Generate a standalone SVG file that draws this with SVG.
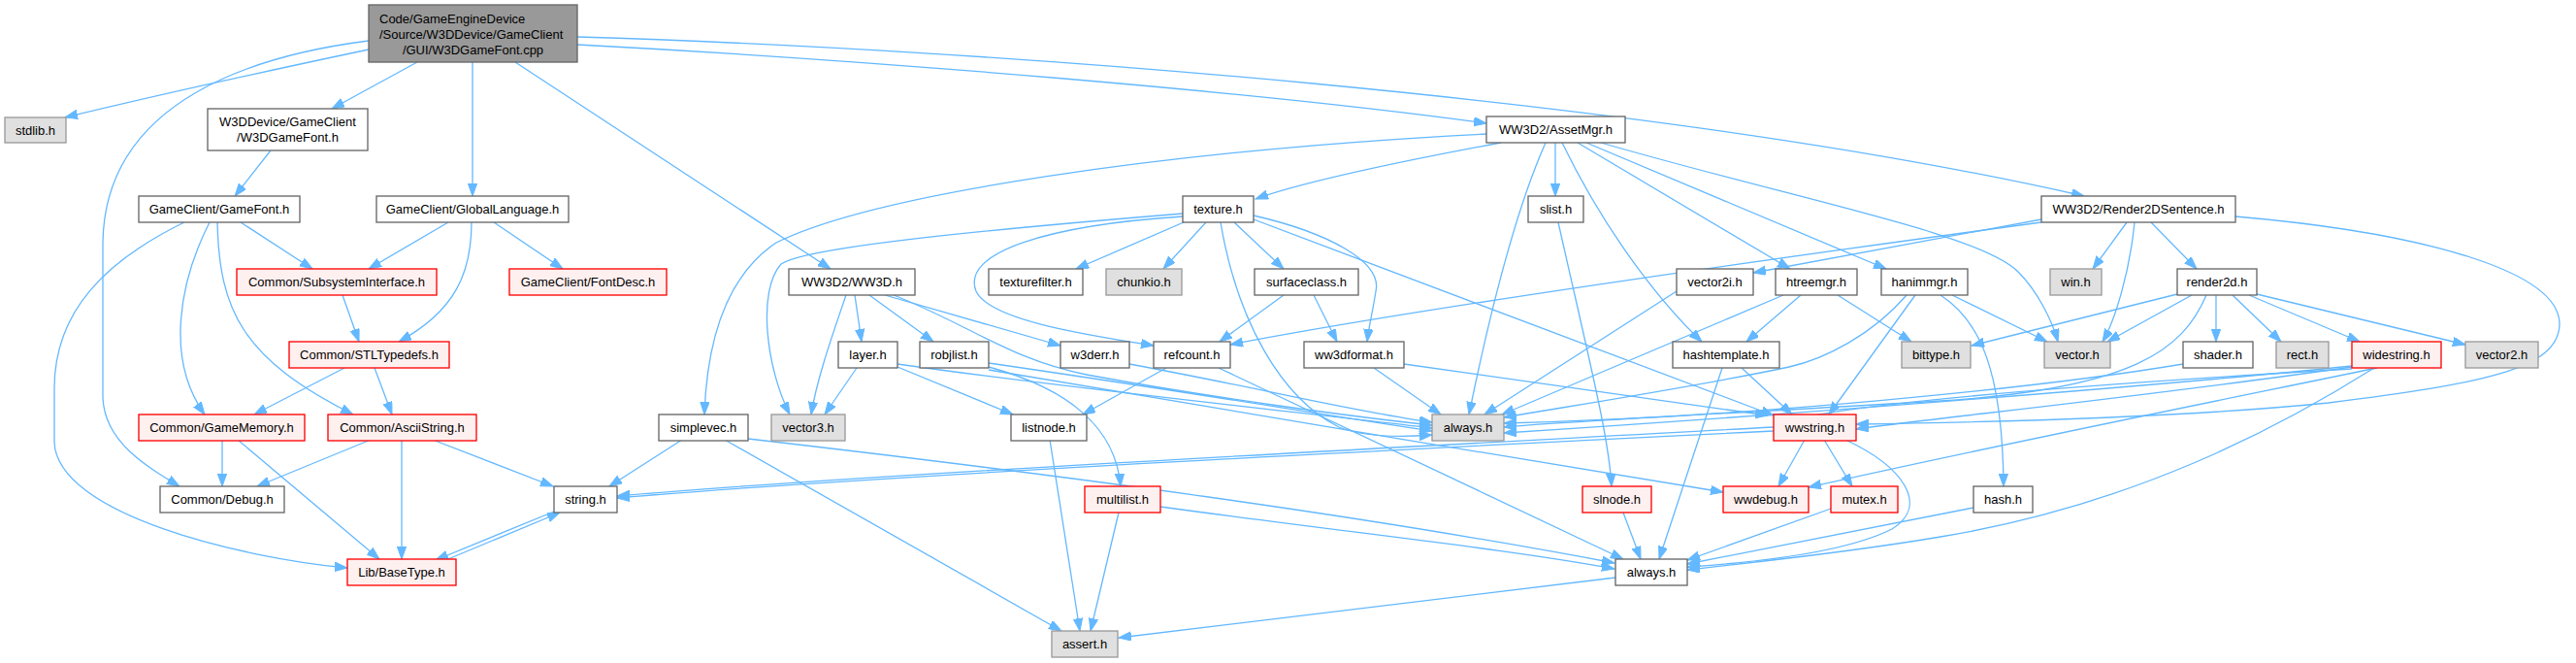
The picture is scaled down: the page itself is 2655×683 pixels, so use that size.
<svg xmlns="http://www.w3.org/2000/svg" width="2655" height="683" viewBox="0 0 2655 683">
<style>
.e{fill:none;stroke:#63b8ff;stroke-width:1.3;marker-end:url(#ah)}
.n rect{fill:#ffffff;stroke:#666666;stroke-width:1.33}
.g rect{fill:#e0e0e0;stroke:#999999;stroke-width:1.33}
.r rect{fill:#fff0f0;stroke:#ff0000;stroke-width:1.33}
.root rect{fill:#999999;stroke:#666666;stroke-width:1.33}
text{font-family:"Liberation Sans",Arial,sans-serif;font-size:13px;fill:#000;text-anchor:middle}
</style>
<defs>
<marker id="ah" markerUnits="userSpaceOnUse" markerWidth="14" markerHeight="10" refX="13" refY="4.7" orient="auto">
<path d="M0,0 L13,4.7 L0,9.4 z" fill="#63b8ff" stroke="#63b8ff" stroke-width="1"/>
</marker>
</defs>
<rect x="0" y="0" width="2655" height="683" fill="#ffffff"/>
<g id="edges">
<path class="e" d="M380,51 C290,70 170,96 67,121"/>
<path class="e" d="M430,64 L342,112"/>
<path class="e" d="M380,42 C270,56 108,100 106,250 L106,410 C108,455 150,480 185,501"/>
<path class="e" d="M487,64 L487,202"/>
<path class="e" d="M531,64 L856,277"/>
<path class="e" d="M595,46 C900,62 1300,95 1532,127"/>
<path class="e" d="M595,38 C1000,50 1700,100 2148,202"/>
<path class="e" d="M279,155 L242,202"/>
<path class="e" d="M248,229 L322,277"/>
<path class="e" d="M216,229 C185,290 170,370 211,427"/>
<path class="e" d="M224,229 C226,320 250,370 364,427"/>
<path class="e" d="M190,229 C110,268 56,320 56,400 L56,455 C58,530 250,575 358,585"/>
<path class="e" d="M462,229 L380,277"/>
<path class="e" d="M509,229 L580,277"/>
<path class="e" d="M486,229 C486,280 470,320 411,352"/>
<path class="e" d="M353,304 L370,352"/>
<path class="e" d="M355,379 L262,427"/>
<path class="e" d="M386,379 L404,427"/>
<path class="e" d="M229,453 L229,501"/>
<path class="e" d="M245,453 L391,576"/>
<path class="e" d="M382,453 L265,501"/>
<path class="e" d="M414,453 L414,576"/>
<path class="e" d="M446,453 L570,501"/>
<path class="e" d="M571,527 L449,577"/>
<path class="e" d="M457,578 L577,528"/>
<path class="e" d="M703,453 L628,501"/>
<path class="e" d="M747,453 L1094,650"/>
<path class="e" d="M771,452 C1100,490 1400,530 1664,580"/>
<path class="e" d="M1196,522 C1400,550 1550,565 1664,586"/>
<path class="e" d="M1082,453 L1113,650"/>
<path class="e" d="M1153,528 L1124,650"/>
<path class="e" d="M1665,595 L1153,657"/>
<path class="e" d="M872,304 C858,345 842,390 836,427"/>
<path class="e" d="M881,304 L888,352"/>
<path class="e" d="M896,304 L962,352"/>
<path class="e" d="M912,304 L1093,356"/>
<path class="e" d="M921,304 C1000,335 1040,370 1120,386 C1250,410 1400,430 1476,438"/>
<path class="e" d="M883,379 L850,427"/>
<path class="e" d="M925,378 L1044,427"/>
<path class="e" d="M925,375 C1100,400 1300,420 1476,441"/>
<path class="e" d="M1019,378 C1100,400 1150,440 1155,501"/>
<path class="e" d="M1019,374 C1200,400 1350,425 1476,444"/>
<path class="e" d="M1019,381 C1200,412 1550,470 1776,507"/>
<path class="e" d="M1164,375 C1300,400 1400,425 1476,435"/>
<path class="e" d="M1220,229 L1109,277"/>
<path class="e" d="M1243,229 L1199,277"/>
<path class="e" d="M1272,229 L1323,277"/>
<path class="e" d="M1219,223 C1080,232 990,260 1006,300 C1020,330 1120,345 1189,356"/>
<path class="e" d="M1219,220 C1000,238 830,255 805,272 C780,300 790,380 814,427"/>
<path class="e" d="M1258,229 C1275,330 1320,410 1380,440 C1410,452 1450,450 1476,448"/>
<path class="e" d="M1292,222 C1370,240 1425,270 1418,300 C1415,320 1411,335 1409,352"/>
<path class="e" d="M1292,226 L1828,428"/>
<path class="e" d="M1323,304 L1257,352"/>
<path class="e" d="M1354,304 L1378,352"/>
<path class="e" d="M1202,379 L1116,427"/>
<path class="e" d="M1256,379 L1673,576"/>
<path class="e" d="M1416,379 L1485,427"/>
<path class="e" d="M1447,375 L1822,428"/>
<path class="e" d="M1532,138 C1200,155 900,200 800,250 C740,290 728,370 726,427"/>
<path class="e" d="M1547,147 C1450,165 1350,185 1294,205"/>
<path class="e" d="M1603,147 L1603,202"/>
<path class="e" d="M1593,147 C1565,210 1540,300 1514,427"/>
<path class="e" d="M1610,147 C1660,250 1720,320 1754,352"/>
<path class="e" d="M1626,147 L1845,277"/>
<path class="e" d="M1635,147 L1944,277"/>
<path class="e" d="M1650,147 C1850,205 2040,240 2080,280 C2100,300 2115,330 2121,352"/>
<path class="e" d="M2192,229 L2157,277"/>
<path class="e" d="M2200,229 C2195,280 2180,330 2167,352"/>
<path class="e" d="M2217,229 L2264,277"/>
<path class="e" d="M2304,223 C2500,240 2640,280 2638,335 C2636,380 2560,395 2400,415 C2250,430 2050,435 1913,437"/>
<path class="e" d="M2104,226 L1807,281"/>
<path class="e" d="M2104,229 C1800,270 1450,320 1268,355"/>
<path class="e" d="M1965,304 C1930,345 1880,370 1844,378 C1750,398 1620,418 1550,430"/>
<path class="e" d="M1974,304 L1885,427"/>
<path class="e" d="M2012,304 L2110,352"/>
<path class="e" d="M2000,304 C2040,330 2064,380 2065,501"/>
<path class="e" d="M1838,304 L1548,427"/>
<path class="e" d="M1856,304 L1800,352"/>
<path class="e" d="M1894,304 L1970,352"/>
<path class="e" d="M1728,300 L1530,427"/>
<path class="e" d="M1775,379 L1710,576"/>
<path class="e" d="M1795,379 L1847,427"/>
<path class="e" d="M1606,229 C1640,380 1658,450 1661,501"/>
<path class="e" d="M1673,528 L1691,576"/>
<path class="e" d="M1860,453 L1833,501"/>
<path class="e" d="M1880,453 L1909,501"/>
<path class="e" d="M1902,453 C1960,480 1990,520 1950,545 C1900,570 1800,580 1739,584"/>
<path class="e" d="M1828,444 C1500,460 900,490 636,513"/>
<path class="e" d="M1887,524 L1739,577"/>
<path class="e" d="M2034,523 L1739,581"/>
<path class="e" d="M2244,303 L2032,356"/>
<path class="e" d="M2259,304 L2172,352"/>
<path class="e" d="M2284,304 L2284,352"/>
<path class="e" d="M2301,304 L2351,352"/>
<path class="e" d="M2318,304 L2432,352"/>
<path class="e" d="M2326,303 L2541,355"/>
<path class="e" d="M2274,304 C2250,360 2200,400 2000,413 C1800,425 1600,435 1550,440"/>
<path class="e" d="M2250,375 C2100,400 1800,430 1550,436"/>
<path class="e" d="M2424,377 C2200,400 1800,430 1550,446"/>
<path class="e" d="M2424,378 C2200,410 2000,430 1913,442"/>
<path class="e" d="M2450,379 C2300,410 2050,460 1864,502"/>
<path class="e" d="M2447,379 C2350,440 2200,520 2000,553 C1900,570 1800,580 1739,587"/>
<path class="e" d="M2424,380 C2000,405 1850,425 1828,440 C1500,458 900,488 636,511"/>
</g>
<g id="root" class="root"><rect x="380" y="5" width="215" height="59"/>
<text x="391" y="24" style="text-anchor:start">Code/GameEngineDevice</text>
<text x="391" y="40" style="text-anchor:start">/Source/W3DDevice/GameClient</text>
<text x="487.5" y="56">/GUI/W3DGameFont.cpp</text></g>
<g id="stdlib_h" class="g"><rect x="5" y="121" width="63" height="26"/><text x="36.5" y="138.5">stdlib.h</text></g>
<g id="W3DGameFont_h" class="n"><rect x="214" y="112" width="165" height="43"/><text x="296.5" y="130">W3DDevice/GameClient</text><text x="296.5" y="146">/W3DGameFont.h</text></g>
<g id="GameFont_h" class="n"><rect x="143" y="202" width="166" height="27"/><text x="226" y="220">GameClient/GameFont.h</text></g>
<g id="GlobalLanguage_h" class="n"><rect x="388" y="202" width="198" height="27"/><text x="487" y="220">GameClient/GlobalLanguage.h</text></g>
<g id="SubsystemInterface_h" class="r"><rect x="244" y="277" width="206" height="27"/><text x="347" y="295">Common/SubsystemInterface.h</text></g>
<g id="FontDesc_h" class="r"><rect x="525" y="277" width="162" height="27"/><text x="606" y="295">GameClient/FontDesc.h</text></g>
<g id="STLTypedefs_h" class="r"><rect x="298" y="352" width="165" height="27"/><text x="380.5" y="370">Common/STLTypedefs.h</text></g>
<g id="GameMemory_h" class="r"><rect x="143" y="427" width="171" height="27"/><text x="228.5" y="445">Common/GameMemory.h</text></g>
<g id="AsciiString_h" class="r"><rect x="338" y="427" width="153" height="27"/><text x="414.5" y="445">Common/AsciiString.h</text></g>
<g id="Debug_h" class="n"><rect x="165" y="501" width="128" height="27"/><text x="229" y="519">Common/Debug.h</text></g>
<g id="string_h" class="n"><rect x="571" y="501" width="65" height="27"/><text x="603.5" y="519">string.h</text></g>
<g id="BaseType_h" class="r"><rect x="358" y="576" width="112" height="27"/><text x="414" y="594">Lib/BaseType.h</text></g>
<g id="simplevec_h" class="n"><rect x="679" y="427" width="92" height="27"/><text x="725" y="445">simplevec.h</text></g>
<g id="vector3_h" class="g"><rect x="795" y="427" width="76" height="27"/><text x="833" y="445">vector3.h</text></g>
<g id="WW3D_h" class="n"><rect x="813" y="277" width="130" height="27"/><text x="878" y="295">WW3D2/WW3D.h</text></g>
<g id="texture_h" class="n"><rect x="1219" y="202" width="73" height="27"/><text x="1255.5" y="220">texture.h</text></g>
<g id="texturefilter_h" class="n"><rect x="1019" y="277" width="97" height="27"/><text x="1067.5" y="295">texturefilter.h</text></g>
<g id="chunkio_h" class="g"><rect x="1140" y="277" width="78" height="27"/><text x="1179" y="295">chunkio.h</text></g>
<g id="surfaceclass_h" class="n"><rect x="1293" y="277" width="107" height="27"/><text x="1346.5" y="295">surfaceclass.h</text></g>
<g id="layer_h" class="n"><rect x="864" y="352" width="61" height="27"/><text x="894.5" y="370">layer.h</text></g>
<g id="robjlist_h" class="n"><rect x="948" y="352" width="71" height="27"/><text x="983.5" y="370">robjlist.h</text></g>
<g id="w3derr_h" class="n"><rect x="1093" y="352" width="71" height="27"/><text x="1128.5" y="370">w3derr.h</text></g>
<g id="refcount_h" class="n"><rect x="1189" y="352" width="79" height="27"/><text x="1228.5" y="370">refcount.h</text></g>
<g id="ww3dformat_h" class="n"><rect x="1344" y="352" width="103" height="27"/><text x="1395.5" y="370">ww3dformat.h</text></g>
<g id="listnode_h" class="n"><rect x="1042" y="427" width="78" height="27"/><text x="1081" y="445">listnode.h</text></g>
<g id="multilist_h" class="r"><rect x="1118" y="501" width="78" height="27"/><text x="1157" y="519">multilist.h</text></g>
<g id="assert_h" class="g"><rect x="1084" y="650" width="68" height="27"/><text x="1118" y="668">assert.h</text></g>
<g id="AssetMgr_h" class="n"><rect x="1532" y="120" width="143" height="27"/><text x="1603.5" y="138">WW3D2/AssetMgr.h</text></g>
<g id="slist_h" class="n"><rect x="1575" y="202" width="57" height="27"/><text x="1603.5" y="220">slist.h</text></g>
<g id="vector2i_h" class="n"><rect x="1728" y="277" width="79" height="27"/><text x="1767.5" y="295">vector2i.h</text></g>
<g id="htreemgr_h" class="n"><rect x="1830" y="277" width="84" height="27"/><text x="1872" y="295">htreemgr.h</text></g>
<g id="hanimmgr_h" class="n"><rect x="1939" y="277" width="89" height="27"/><text x="1983.5" y="295">hanimmgr.h</text></g>
<g id="hashtemplate_h" class="n"><rect x="1724" y="352" width="110" height="27"/><text x="1779" y="370">hashtemplate.h</text></g>
<g id="bittype_h" class="g"><rect x="1960" y="352" width="71" height="27"/><text x="1995.5" y="370">bittype.h</text></g>
<g id="always_h_gray" class="g"><rect x="1476" y="427" width="74" height="27"/><text x="1513" y="445">always.h</text></g>
<g id="wwstring_h" class="r"><rect x="1828" y="427" width="85" height="27"/><text x="1870.5" y="445">wwstring.h</text></g>
<g id="slnode_h" class="r"><rect x="1631" y="501" width="71" height="27"/><text x="1666.5" y="519">slnode.h</text></g>
<g id="wwdebug_h" class="r"><rect x="1776" y="501" width="88" height="27"/><text x="1820" y="519">wwdebug.h</text></g>
<g id="mutex_h" class="r"><rect x="1887" y="501" width="69" height="27"/><text x="1921.5" y="519">mutex.h</text></g>
<g id="hash_h" class="n"><rect x="2034" y="501" width="61" height="27"/><text x="2064.5" y="519">hash.h</text></g>
<g id="always_h" class="n"><rect x="1665" y="576" width="74" height="27"/><text x="1702" y="594">always.h</text></g>
<g id="Render2DSentence_h" class="n"><rect x="2104" y="202" width="200" height="27"/><text x="2204" y="220">WW3D2/Render2DSentence.h</text></g>
<g id="win_h" class="g"><rect x="2113" y="277" width="53" height="27"/><text x="2139.5" y="295">win.h</text></g>
<g id="render2d_h" class="n"><rect x="2244" y="277" width="82" height="27"/><text x="2285" y="295">render2d.h</text></g>
<g id="vector_h" class="g"><rect x="2107" y="352" width="68" height="27"/><text x="2141" y="370">vector.h</text></g>
<g id="shader_h" class="n"><rect x="2250" y="352" width="72" height="27"/><text x="2286" y="370">shader.h</text></g>
<g id="rect_h" class="g"><rect x="2346" y="352" width="54" height="27"/><text x="2373" y="370">rect.h</text></g>
<g id="widestring_h" class="r"><rect x="2424" y="352" width="92" height="27"/><text x="2470" y="370">widestring.h</text></g>
<g id="vector2_h" class="g"><rect x="2541" y="352" width="75" height="27"/><text x="2578.5" y="370">vector2.h</text></g>
</svg>
